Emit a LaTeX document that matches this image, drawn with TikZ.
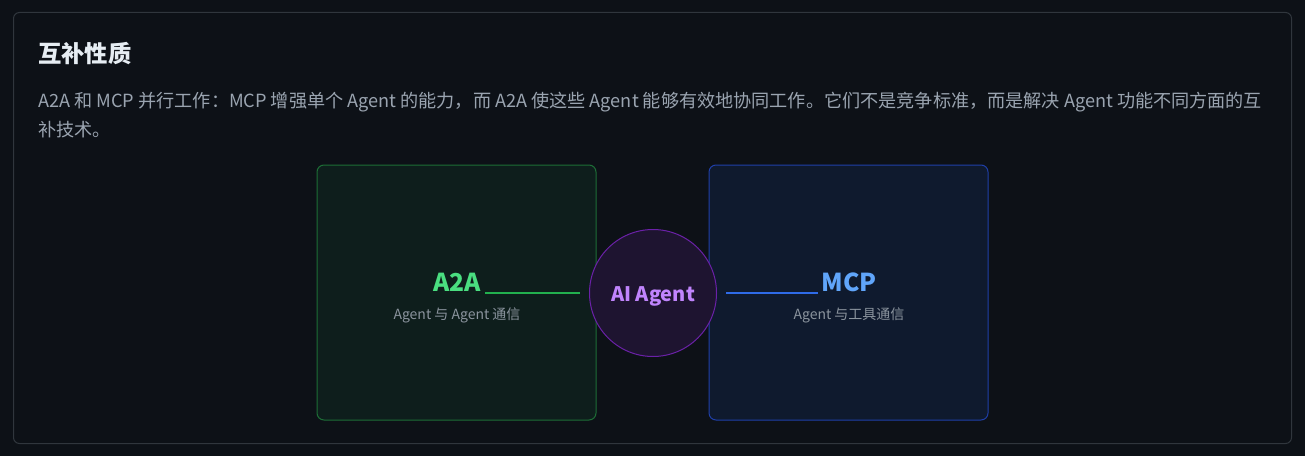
\documentclass[tikz,border=0pt]{standalone}
\usepackage{fontspec}
\setmainfont{Noto Sans CJK SC}
\newdimen\pxu \pxu=0.75pt
\definecolor{bgc}{HTML}{0D1117}
\definecolor{cardb}{HTML}{30363D}
\definecolor{gfill}{HTML}{0E1E1C}
\definecolor{gbord}{HTML}{1D6E36}
\definecolor{bfill}{HTML}{0F1A2E}
\definecolor{bbord}{HTML}{1F3FA8}
\definecolor{cfill}{HTML}{1E1430}
\definecolor{cbord}{HTML}{6B21A8}
\definecolor{gtext}{HTML}{4ADE80}
\definecolor{gline}{HTML}{22B04E}
\definecolor{btext}{HTML}{60A5FA}
\definecolor{bline}{HTML}{2F6BE8}
\definecolor{ptext}{HTML}{C084FC}
\definecolor{subt}{HTML}{8B949E}
\definecolor{head}{HTML}{E6EDF3}
\definecolor{body}{HTML}{9AA4B0}
\begin{document}
\begin{tikzpicture}[x=0.75pt,y=-0.75pt,
  box/.style={draw, line width=1\pxu, rounded corners=7\pxu, minimum width=279\pxu, minimum height=255\pxu, inner sep=0pt},
  lbl/.style={font=\fontsize{18.5pt}{20pt}\selectfont\bfseries, inner sep=0pt},
  sub/.style={font=\fontsize{10.5pt}{12pt}\selectfont, text=subt, inner sep=0pt},
  bodytxt/.style={font=\fontsize{13.6pt}{15pt}\selectfont, text=body, inner sep=0pt, anchor=west},
  conn/.style={line width=2\pxu}]
\fill[bgc] (0,0) rectangle (1305,456);
\useasboundingbox (0,0) rectangle (1305,456);
\draw[cardb, line width=1\pxu, rounded corners=6\pxu] (13.5,12.5) rectangle (1291.5,443.5);
\node[anchor=west, inner sep=0pt, text=head, font=\fontsize{17.5pt}{19pt}\selectfont\bfseries] (title) at (38,54) {互补性质};
\node[bodytxt] (l1) at (38,102) {A2A 和 MCP 并行工作：MCP 增强单个 Agent 的能力，而 A2A 使这些 Agent 能够有效地协同工作。它们不是竞争标准，而是解决 Agent 功能不同方面的互};
\node[bodytxt] (l2) at (38,130) {补技术。};
\node[box, fill=gfill, draw=gbord] (gbox) at (456.5,292.5) {};
\node[box, fill=bfill, draw=bbord] (bbox) at (848.5,292.5) {};
\node[circle, fill=cfill, draw=cbord, line width=1\pxu, minimum size=127\pxu, inner sep=0pt] (agent) at (653,293) {};
\node[text=ptext, font=\fontsize{15pt}{17pt}\selectfont\bfseries, inner sep=0pt] (agtxt) at (653,296) {AI Agent};
\node[lbl, text=gtext] (a2a) at (457,282) {A2A};
\node[lbl, text=btext] (mcp) at (849,282) {MCP};
\node[sub] (a2asub) at (457,315) {Agent 与 Agent 通信};
\node[sub] (mcpsub) at (849,315) {Agent 与工具通信};
\coordinate (gl0) at ([xshift=4\pxu]a2a.east |- agent.west);
\coordinate (bl1) at ([xshift=-3\pxu]mcp.west |- agent.east);
\draw[conn, gline] (gl0) -- ([xshift=-9\pxu]agent.west);
\draw[conn, bline] ([xshift=9\pxu]agent.east) -- (bl1);
\end{tikzpicture}
\end{document}
